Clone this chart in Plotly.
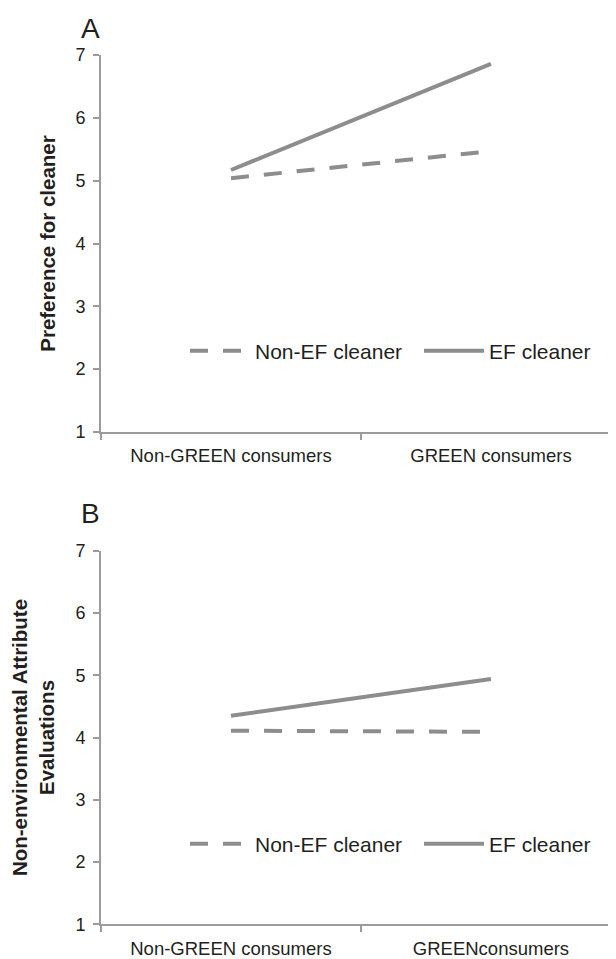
import plotly.graph_objects as go

# ---- data ----
categories_a = ["Non-GREEN consumers", "GREEN consumers"]
categories_b = ["Non-GREEN consumers", "GREENconsumers"]
pref_non_ef = [5.04, 5.47]
pref_ef = [5.17, 6.86]
eval_non_ef = [4.11, 4.09]
eval_ef = [4.35, 4.94]
y_ticks = [1, 2, 3, 4, 5, 6, 7]
series_names = ["Non-EF cleaner", "EF cleaner"]

# page body has an 8px margin, so the figure is 8px smaller than the window
W, H = 608, 951
LINE = "#8d8d8f"
AXIS = "#9b9b9b"
TEXT = "#231f20"
FONT = "Liberation Sans, Arial, sans-serif"
DASH = "18px,15px"

fig = go.Figure()

fig.add_trace(go.Scatter(x=categories_a, y=pref_non_ef, mode="lines", name=series_names[0],
                         line=dict(color=LINE, width=4, dash=DASH), xaxis="x", yaxis="y", legend="legend"))
fig.add_trace(go.Scatter(x=categories_a, y=pref_ef, mode="lines", name=series_names[1],
                         line=dict(color=LINE, width=4), xaxis="x", yaxis="y", legend="legend2"))
fig.add_trace(go.Scatter(x=categories_b, y=eval_non_ef, mode="lines", name=series_names[0],
                         line=dict(color=LINE, width=4, dash=DASH), xaxis="x2", yaxis="y2", legend="legend3"))
fig.add_trace(go.Scatter(x=categories_b, y=eval_ef, mode="lines", name=series_names[1],
                         line=dict(color=LINE, width=4), xaxis="x2", yaxis="y2", legend="legend4"))

ML = 93
mt, mb = 10, 10
ph = H - mt - mb
pw = W - ML

def py(px):
    return (H - mb - px) / ph

def pxf(px):
    return (px - ML) / pw

def dom(top_px, bot_px):
    return [py(bot_px), py(top_px)]

xcommon = dict(type="category", range=[-0.5, 1.481], tickson="boundaries", ticks="outside",
               ticklen=6, tickcolor=AXIS, tickwidth=1.5, showline=True, linecolor=AXIS, linewidth=2,
               showgrid=False, zeroline=False, tickfont=dict(size=18.5, color=TEXT, family=FONT),
               ticklabelstandoff=6, automargin=False, fixedrange=True)
ycommon = dict(range=[1, 7], tickvals=y_ticks, ticks="outside", ticklen=6, tickcolor=AXIS, tickwidth=1.5,
               showline=True, linecolor=AXIS, linewidth=2, showgrid=False, zeroline=False,
               tickfont=dict(size=18, color=TEXT, family=FONT), ticklabelstandoff=4,
               automargin=False, fixedrange=True)

legend_common = dict(orientation="h", xref="paper", yref="paper", xanchor="left", yanchor="middle",
                     font=dict(size=21, color=TEXT, family=FONT), itemwidth=60,
                     bgcolor="rgba(0,0,0,0)")

fig.update_layout(
    width=W, height=H,
    margin=dict(l=ML, r=0, t=mt, b=mb),
    paper_bgcolor="white", plot_bgcolor="white",
    font=dict(family=FONT, color=TEXT),
    xaxis=dict(**xcommon, domain=[0, 1], anchor="y"),
    yaxis=dict(**ycommon, domain=dom(47, 424), anchor="x",
               title=dict(text="<b>Preference for cleaner</b>", font=dict(size=20.5, color=TEXT, family=FONT), standoff=14)),
    xaxis2=dict(**xcommon, domain=[0, 1], anchor="y2"),
    yaxis2=dict(**ycommon, domain=dom(542.7, 916.3), anchor="x2",
                title=dict(text="<b>Non-environmental Attribute<br>Evaluations</b>", font=dict(size=20.5, color=TEXT, family=FONT), standoff=16)),
    legend=dict(**legend_common, x=pxf(177), y=py(343)),
    legend2=dict(**legend_common, x=pxf(411), y=py(343)),
    legend3=dict(**legend_common, x=pxf(177), y=py(836)),
    legend4=dict(**legend_common, x=pxf(411), y=py(836)),
    annotations=[
        dict(text="A", xref="paper", yref="paper", x=pxf(71), y=py(20),
             showarrow=False, font=dict(size=28, color=TEXT, family=FONT), xanchor="left", yanchor="middle"),
        dict(text="B", xref="paper", yref="paper", x=pxf(71), y=py(505),
             showarrow=False, font=dict(size=28, color=TEXT, family=FONT), xanchor="left", yanchor="middle"),
    ],
    showlegend=True,
)

fig.write_html("out.html")
